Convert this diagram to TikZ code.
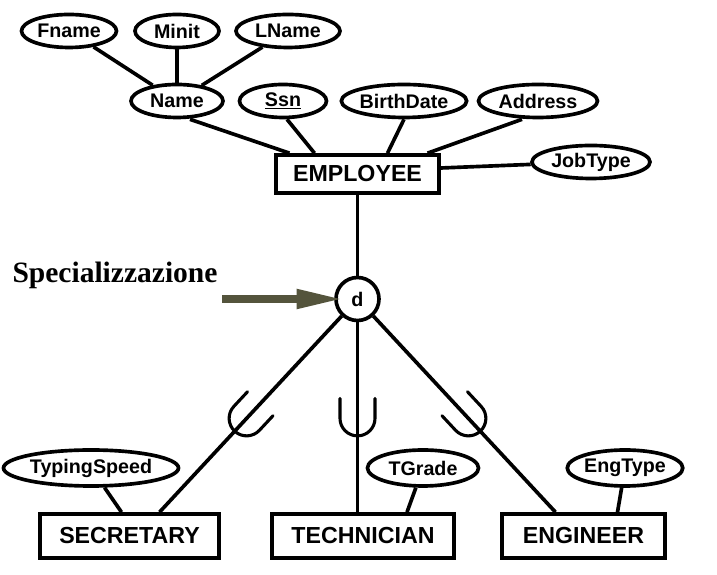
\documentclass[tikz,border=0pt]{standalone}
\usepackage{fontspec}
\setsansfont{Liberation Sans}
\newfontfamily\serifbold{Liberation Serif}
\usetikzlibrary{arrows.meta, shapes.geometric, calc}

\definecolor{arrowolive}{RGB}{84,84,60}

\begin{document}
\begin{tikzpicture}[x=0.25mm, y=0.25mm, line width=2.6pt,
        attr/.style={draw, ellipse, inner sep=0pt, minimum height=8.25mm,
            font=\sffamily\bfseries\fontsize{14}{16}\selectfont},
        entity/.style={draw, rectangle, inner sep=0pt, minimum height=9.5mm,
            font=\sffamily\bfseries\fontsize{16.5}{19}\selectfont},
        disj/.style={draw, circle, inner sep=0pt, minimum size=10.75mm,
            font=\sffamily\bfseries\fontsize{14}{16}\selectfont},
        cup/.style={line width=2.2pt, line cap=round}]
        \useasboundingbox (0,0) rectangle (717,575);

        % Superclass
        \node[entity, minimum width=40.75mm] (emp) at (357.5,401) {EMPLOYEE};

        % Attributes of Name
        \node[attr, minimum width=23.75mm] (fname) at (69,544) {Fname};
        \node[attr, minimum width=21mm] (minit) at (177,544) {Minit};
        \node[attr, minimum width=26mm] (lname) at (288,544) {LName};
        \node[attr, minimum width=23mm] (name) at (177,474) {Name};
        \draw (fname) -- (name);
        \draw (minit) -- (name);
        \draw (lname) -- (name);

        % Attributes of EMPLOYEE
        \node[attr, minimum width=21.75mm] (ssn) at (283,474) {\underline{Ssn}};
        \node[attr, minimum width=29.75mm] (birth) at (404,474) {BirthDate};
        \node[attr, minimum width=29.75mm] (addr) at (538,474) {Address};
        \node[attr, minimum width=29.5mm] (job) at (591,413) {JobType};
        \draw ([xshift=3.25mm]name.south) -- ([xshift=-17mm]emp.north);
        \draw ([xshift=1mm]ssn.south) -- ([xshift=-10.75mm]emp.north);
        \draw (birth.south) -- ([xshift=7.5mm]emp.north);
        \draw ([xshift=-4mm]addr.south) -- ([xshift=17.5mm]emp.north);
        \draw (job) -- ([yshift=1.5mm]emp.east);

        % Disjoint specialization
        \node[disj] (d) at (357.5,276) {d};
        \draw (emp) -- (d);

        \node[anchor=base west, font=\serifbold\bfseries\fontsize{21}{24}\selectfont] (spec) at (6,292) {Specializzazione};
        \coordinate (arrtail) at (222,276);
        \draw[-{Triangle[length=11.5mm, width=4.6mm]}, line width=5pt, arrowolive] (arrtail) -- ([xshift=-3.75mm]d.center);

        % Subclasses
        \node[entity, minimum width=44.75mm, minimum height=11mm] (sec) at (129.5,39) {SECRETARY};
        \node[entity, minimum width=45.5mm, minimum height=11mm] (tech) at (363,39) {TECHNICIAN};
        \node[entity, minimum width=40.75mm, minimum height=11mm] (eng) at (583.5,39) {ENGINEER};
        \draw (d) -- ([xshift=7.5mm]sec.north);
        \draw (d) -- (d |- tech.north);
        \draw (d) -- ([xshift=-7mm]eng.north);

        % Subset marks
        \coordinate (cupL) at ($(d)!0.56!([xshift=7.5mm]sec.north)$);
        \coordinate (cupM) at ($(d)!0.56!(d |- tech.north)$);
        \coordinate (cupR) at ($(d)!0.56!([xshift=-7mm]eng.north)$);
        \draw[cup, shift={(cupL)}, rotate=47] (20,-17.5) -- (0,-17.5) arc[start angle=270, end angle=90, radius=17.5] -- (20,17.5);
        \draw[cup, shift={(cupM)}, rotate=90] (20,-17.5) -- (0,-17.5) arc[start angle=270, end angle=90, radius=17.5] -- (20,17.5);
        \draw[cup, shift={(cupR)}, rotate=133] (20,-17.5) -- (0,-17.5) arc[start angle=270, end angle=90, radius=17.5] -- (20,17.5);

        % Local attributes
        \node[attr, minimum width=43.75mm, minimum height=9mm] (typing) at (91,107) {TypingSpeed};
        \node[attr, minimum width=27.75mm, minimum height=9mm] (tgrade) at (423,107) {TGrade};
        \node[attr, minimum width=26.75mm, minimum height=9mm] (engtype) at (625,107) {EngType};
        \draw (typing) -- ([xshift=-2mm]sec.north);
        \draw (tgrade) -- ([xshift=11mm]tech.north);
        \draw (engtype) -- ([xshift=8.5mm]eng.north);
    \end{tikzpicture}
\end{document}
